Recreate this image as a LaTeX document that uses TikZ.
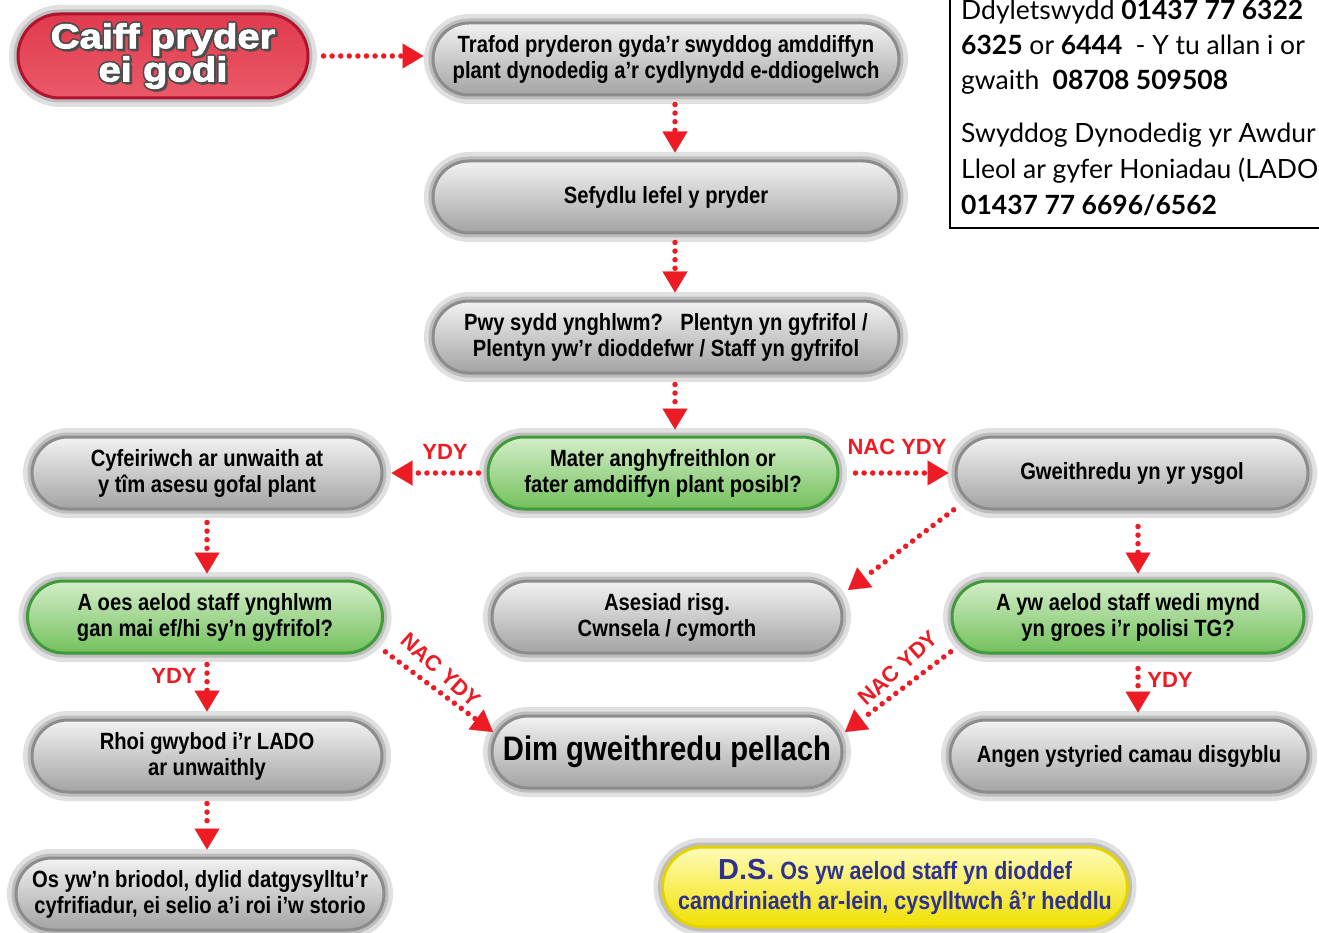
\documentclass[tikz,border=0pt]{standalone}
\usepackage{fontspec}
\setmainfont{Liberation Sans}
\newfontfamily\cond[FakeStretch=0.86]{Liberation Sans}
\newfontfamily\blackf[FakeStretch=1.16,BoldFeatures={FakeBold=2.5}]{Liberation Sans}
\newfontfamily\gill{Lato}
\usetikzlibrary{shapes.misc,arrows.meta,calc}
\definecolor{arrred}{HTML}{ED1C24}
\definecolor{dsblue}{HTML}{2E3192}
\definecolor{grim}{HTML}{3F9A3A}
\definecolor{gtop}{HTML}{D4EEC8}
\definecolor{gmid}{HTML}{A8DC92}
\definecolor{gbot}{HTML}{72C05C}
\definecolor{rrim}{HTML}{B3122C}
\definecolor{rtop}{HTML}{E03A4E}
\definecolor{rmid}{HTML}{F497A0}
\definecolor{rbot}{HTML}{EA5A68}
\definecolor{yrim}{HTML}{E3D200}
\definecolor{ytop}{HTML}{FFFCB8}
\definecolor{ymid}{HTML}{FFF200}
\definecolor{ybot}{HTML}{F0E000}
\begin{document}
\begin{tikzpicture}[x=1pt,y=-1pt,
  pillbase/.style={rounded rectangle, minimum height=72pt, inner sep=0pt, align=center,
    line width=3pt, preaction={draw=black!12,line width=18pt}, preaction={draw=black!26,line width=9pt},
    font=\cond\bfseries\fontsize{23.5}{26}\selectfont},
  graypill/.style={pillbase, draw=black!45, top color=black!5, middle color=black!13, bottom color=black!36, minimum width=#1},
  greenpill/.style={pillbase, draw=grim, top color=gtop, middle color=gmid, bottom color=gbot, minimum width=#1},
  arr/.style={draw=arrred, line width=5.5pt, line cap=round, dash pattern=on 0pt off 8.6pt,
    -{Triangle[length=21pt,width=25pt,line width=0.1pt]}},
  lbl/.style={text=arrred, font=\bfseries\fontsize{22}{22}\selectfont, inner sep=0pt},
  info/.style={anchor=base west, inner sep=0pt, font=\gill\fontsize{26.5}{26.5}\selectfont},
  headtxt/.style={align=center, font=\blackf\bfseries\fontsize{34.5}{32}\selectfont, inner sep=0pt}
]
\useasboundingbox (0,0) rectangle (1319,933);
\clip (0,0) rectangle (1319,933);
\fill[white] (0,0) rectangle (1319,933);

% info box
\draw[line width=2.5pt] (950,-10) -- (950,228) -- (1330,228);
\node[info] (i1) at (961,20) {Ddyletswydd \textbf{01437 77 6322}};
\node[info] (i2) at (961,55) {\textbf{6325} or \textbf{6444}\enspace- Y tu allan i or};
\node[info] (i3) at (961,90) {gwaith\enspace\textbf{08708 509508}};
\node[info] (i4) at (961,143) {Swyddog Dynodedig yr Awdur};
\node[info] (i5) at (961,179) {Lleol ar gyfer Honiadau (LADO};
\node[info] (i6) at (961,215) {\textbf{01437 77 6696/6562}};

% red start pill
\node[pillbase, draw=rrim, top color=rtop, middle color=rmid, bottom color=rbot, minimum width=290pt, minimum height=84pt] (caiff) at (163,56) {};
\foreach \dx/\dy [count=\k] in {-1.6/0,1.6/0,0/-1.6,0/1.6,-1.2/-1.2,1.2/1.2,1.2/-1.2,-1.2/1.2,2/2.6,2.6/2}
  \node[headtxt, text=black!70] (cs\k) at ($(caiff.center)+(\dx,\dy)$) {Caiff pryder\\ei godi};
\node[headtxt, text=white] (ct) at (caiff.center) {Caiff pryder\\ei godi};

% gray pills
\node[graypill=466pt] (trafod) at (666,59) {Trafod pryderon gyda’r swyddog amddiffyn\\plant dynodedig a’r cydlynydd e-ddiogelwch};
\node[graypill=466pt] (sefydlu) at (666,197) {Sefydlu lefel y pryder};
\node[graypill=466pt] (pwy) at (666,337) {Pwy sydd ynghlwm?\enspace\ Plentyn yn gyfrifol /\\Plentyn yw’r dioddefwr / Staff yn gyfrifol};
\node[greenpill=350pt] (mater) at (663,473) {Mater anghyfreithlon or\\fater amddiffyn plant posibl?};
\node[graypill=350pt] (cyfeir) at (207,473) {Cyfeiriwch ar unwaith at\\y tîm asesu gofal plant};
\node[graypill=352pt] (gweith) at (1132,473) {Gweithredu yn yr ysgol};
\node[greenpill=355pt] (aoes) at (205,617) {A oes aelod staff ynghlwm\\gan mai ef/hi sy’n gyfrifol?};
\node[graypill=350pt] (asesiad) at (667,617) {Asesiad risg.\\Cwnsela / cymorth};
\node[greenpill=352pt] (ayw) at (1128,617) {A yw aelod staff wedi mynd\\yn groes i’r polisi TG?};
\node[graypill=350pt] (rhoi) at (207,756) {Rhoi gwybod i’r LADO\\ar unwaithly};
\node[graypill=350pt, font=\cond\bfseries\fontsize{34}{36}\selectfont] (dim) at (667,752) {Dim gweithredu pellach};
\node[graypill=358pt] (angen) at (1129,756) {Angen ystyried camau disgyblu};
\node[graypill=368pt] (os) at (200,894) {Os yw’n briodol, dylid datgysylltu’r\\cyfrifiadur, ei selio a’i roi i’w storio};
\node[pillbase, draw=yrim, top color=ytop, middle color=ymid, bottom color=ybot, minimum width=465pt, minimum height=80pt, text=dsblue, font=\cond\bfseries\fontsize{25}{30}\selectfont] (ds) at (895,887) {{\normalfont\bfseries\fontsize{29}{30}\selectfont D.S.} Os yw aelod staff yn dioddef\\camdriniaeth ar-lein, cysylltwch â’r heddlu};

% arrows
\draw[arr, shorten <=14pt, shorten >=8pt] (caiff.east) -- (caiff.east -| trafod.west);
\draw[arr, shorten <=8pt, shorten >=7pt] ([xshift=9pt]trafod.south) -- ([xshift=9pt]sefydlu.north);
\draw[arr, shorten <=8pt, shorten >=7pt] ([xshift=9pt]sefydlu.south) -- ([xshift=9pt]pwy.north);
\draw[arr, shorten <=10pt, shorten >=6pt] ([xshift=9pt]pwy.south) -- ([xshift=9pt]pwy.south |- mater.north);
\draw[arr, shorten <=8pt, shorten >=8pt] (mater.west) -- (cyfeir.east);
\draw[arr, shorten <=16pt, shorten >=6pt] (mater.east) -- (gweith.west);
\draw[arr, shorten <=12pt, shorten >=6pt] (cyfeir.south) -- (cyfeir.south |- aoes.north);
\draw[arr, shorten <=10pt, shorten >=7pt] ([xshift=2pt]aoes.south) -- ([xshift=2pt]aoes.south |- rhoi.north);
\draw[arr, shorten <=10pt, shorten >=7pt] (rhoi.south) -- (rhoi.south |- os.north);
\draw[arr, shorten <=16pt, shorten >=6pt] ([xshift=6pt]gweith.south) -- ([xshift=6pt]gweith.south |- ayw.north);
\draw[arr, shorten <=14pt, shorten >=6pt] ([xshift=10pt]ayw.south) -- ([xshift=10pt]ayw.south |- angen.north);
\draw[arr, shorten <=3pt] ([shift={(-176,35)}]gweith.center) -- ([shift={(181,-27)}]asesiad.center);
\draw[arr, shorten <=3pt] ([shift={(178,33)}]aoes.center) -- ([shift={(-174,-20)}]dim.center);
\draw[arr, shorten <=3pt] ([shift={(-175,33)}]ayw.center) -- ([shift={(178,-20)}]dim.center);

% labels
\node[lbl] (l1) at (445,452) {YDY};
\node[lbl] (l2) at (897,447) {NAC YDY};
\node[lbl] (l3) at (174,676) {YDY};
\node[lbl] (l4) at (1170,680) {YDY};
\node[lbl, rotate=-42] (l5) at (441,670) {NAC YDY};
\node[lbl, rotate=42] (l6) at (898,668) {NAC YDY};
\end{tikzpicture}
\end{document}
